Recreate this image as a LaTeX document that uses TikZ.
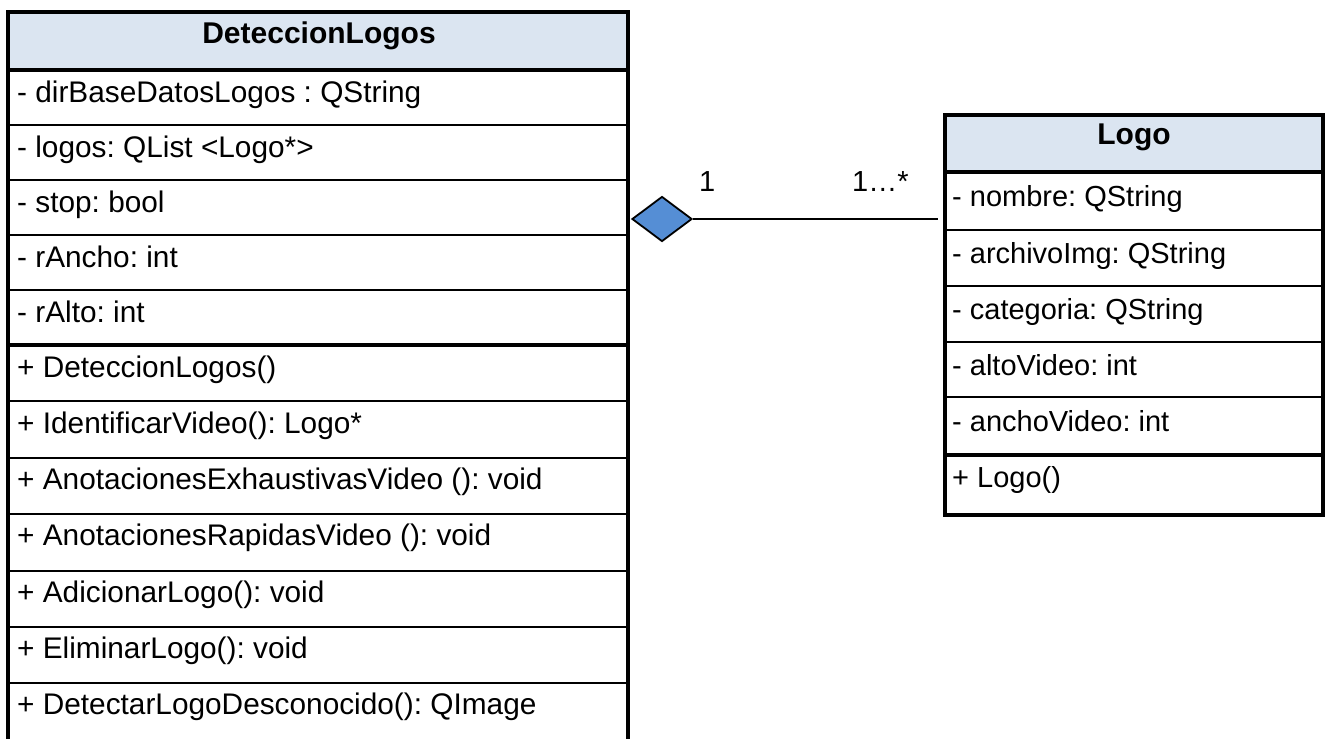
\documentclass[tikz,border=0pt]{standalone}
\usepackage{fontspec}
\setmainfont{Liberation Sans}
\usetikzlibrary{shapes.geometric}
\definecolor{hdrfill}{RGB}{219,229,241}
\definecolor{aggfill}{RGB}{85,142,213}
\begin{document}
\frenchspacing
\begin{tikzpicture}[x=1pt,y=-1pt,
  lefttext/.style={anchor=base west, inner sep=0pt, font=\fontsize{29.8}{36}\selectfont},
  righttext/.style={anchor=base west, inner sep=0pt, font=\fontsize{29}{34}\selectfont},
  titletext/.style={anchor=base, inner sep=0pt, font=\fontsize{30}{36}\selectfont\bfseries},
  frame/.style={line width=3.5pt},
  sepline/.style={line width=1.8pt},
  aggr/.style={diamond, draw, fill=aggfill, line width=1.8pt, minimum width=60pt, minimum height=45pt, inner sep=0pt}
]
\useasboundingbox (0,0) rectangle (1326,739);
\clip (0,0) rectangle (1326,739);

% ---------- DeteccionLogos ----------
\fill[hdrfill] (8,12) rectangle (628,70);
\foreach \y in {125,180,235,290,401,458,514,571,627,683}
  \draw[sepline] (8,\y) -- (628,\y);
\draw[frame] (8,70) -- (628,70);
\draw[frame] (8,345) -- (628,345);
\draw[frame] (8,760) -- (8,12) -- (628,12) -- (628,760);
\node[titletext] (dltitle) at (319,43) {DeteccionLogos};
\node[lefttext] (dla1) at (17,102) {- dirBaseDatosLogos : QString};
\node[lefttext] (dla2) at (17,157) {- logos: QList <Logo*>};
\node[lefttext] (dla3) at (17,212) {- stop: bool};
\node[lefttext] (dla4) at (17,267) {- rAncho: int};
\node[lefttext] (dla5) at (17,322) {- rAlto: int};
\node[lefttext] (dlo1) at (17,377) {+ DeteccionLogos()};
\node[lefttext] (dlo2) at (17,433) {+ IdentificarVideo(): Logo*};
\node[lefttext] (dlo3) at (17,489) {+ AnotacionesExhaustivasVideo (): void};
\node[lefttext] (dlo4) at (17,545) {+ AnotacionesRapidasVideo (): void};
\node[lefttext] (dlo5) at (17,602) {+ AdicionarLogo(): void};
\node[lefttext] (dlo6) at (17,658) {+ EliminarLogo(): void};
\node[lefttext] (dlo7) at (17,714) {+ DetectarLogoDesconocido(): QImage};

% ---------- Logo ----------
\fill[hdrfill] (945,115) rectangle (1323,172);
\foreach \y in {230,286,342,397}
  \draw[sepline] (945,\y) -- (1323,\y);
\draw[frame] (945,172) -- (1323,172);
\draw[frame] (945,455) -- (1323,455);
\draw[frame] (945,115) rectangle (1323,515);
\node[titletext] (lgtitle) at (1134,144) {Logo};
\node[righttext] (lga1) at (952,206) {- nombre: QString};
\node[righttext] (lga2) at (952,263) {- archivoImg: QString};
\node[righttext] (lga3) at (952,319) {- categoria: QString};
\node[righttext] (lga4) at (952,375) {- altoVideo: int};
\node[righttext] (lga5) at (952,431) {- anchoVideo: int};
\node[righttext] (lgo1) at (952,487) {+ Logo()};

% ---------- aggregation ----------
\node[aggr] (agg) at (662,219) {};
\coordinate (logoend) at (938,219);
\draw[sepline] (agg.east) -- (logoend);
\node[righttext] (mult1) at (699,191) {1};
\node[righttext] (mult2) at (852,191) {1…*};
\end{tikzpicture}
\end{document}
